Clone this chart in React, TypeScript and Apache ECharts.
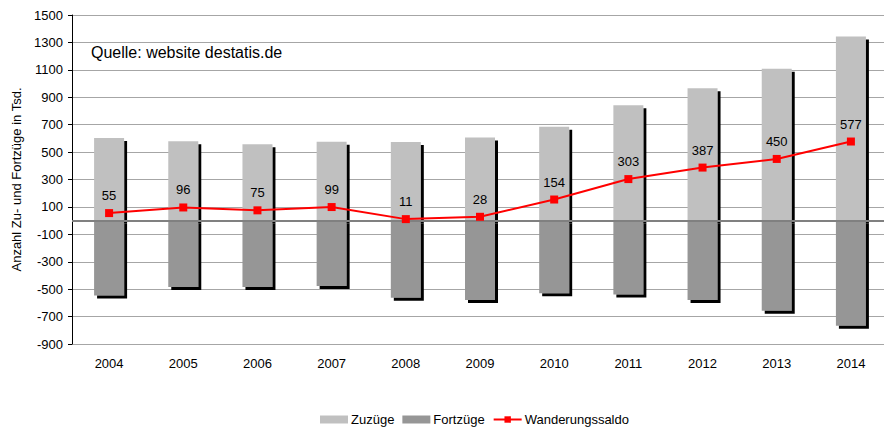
import React, { useEffect, useRef } from "react";
import * as echarts from "echarts";

const years = ["2004", "2005", "2006", "2007", "2008", "2009", "2010", "2011", "2012", "2013", "2014"];
const zuzuege = [602, 579, 558, 575, 574, 606, 684, 842, 966, 1108, 1343];
const fortzuege = [-547, -484, -484, -476, -563, -579, -530, -539, -579, -658, -766];
const saldo = [55, 96, 75, 99, 11, 28, 154, 303, 387, 450, 577];
const yMin = -900;
const yMax = 1500;
const yStep = 200;

const FONT = "'Liberation Sans', Arial, sans-serif";

export default function App() {
  const ref = useRef<HTMLDivElement>(null);
  useEffect(() => {
    if (!ref.current) return;
    const chart = echarts.init(ref.current, null, { renderer: "svg" });
    const shadow = { shadowColor: "#000", shadowOffsetX: 3, shadowOffsetY: 3, shadowBlur: 0 };
    chart.setOption({
      animation: false,
      textStyle: { fontFamily: FONT },
      grid: {
        left: 72,
        width: 816,
        top: 15,
        height: 329,
        containLabel: false,
        outerBoundsMode: "none",
      },
      graphic: [
        {
          type: "text",
          left: 91,
          top: 44,
          style: { text: "Quelle: website destatis.de", font: `16px ${FONT}`, fill: "#000" },
        },
      ],
      legend: {
        left: 320,
        top: 413,
        padding: 0,
        itemWidth: 28,
        itemHeight: 8,
        itemGap: 8,
        textStyle: { fontSize: 13, color: "#000", fontFamily: FONT, padding: [0, 0, 0, -2] },
        itemStyle: { shadowBlur: 0, shadowOffsetX: 0, shadowOffsetY: 0, shadowColor: "transparent" },
        data: [
          { name: "Zuzüge", icon: "rect" },
          { name: "Fortzüge", icon: "rect" },
          { name: "Wanderungssaldo" },
        ],
      },
      xAxis: {
        type: "category",
        data: years,
        axisLine: { show: false, onZero: false },
        axisTick: { show: false },
        axisLabel: { color: "#000", fontSize: 13, margin: 13, fontFamily: FONT },
        splitLine: { show: false },
      },
      yAxis: [
        {
          type: "value",
          min: yMin,
          max: yMax,
          show: false,
          splitLine: { show: false },
        },
        {
          type: "value",
          position: "left",
          min: 0,
          max: yMax - yMin,
          interval: yStep,
          name: "Anzahl Zu- und Fortzüge in Tsd.",
          nameLocation: "middle",
          nameGap: 46,
          nameTextStyle: { fontSize: 13, color: "#000", fontFamily: FONT },
          axisLine: { show: true, lineStyle: { color: "#000", width: 1 } },
          axisTick: { show: true, length: 4, lineStyle: { color: "#000" } },
          axisLabel: {
            color: "#000",
            fontSize: 13,
            margin: 9,
            fontFamily: FONT,
            formatter: (v: number) => String(v + yMin),
          },
          splitLine: { show: true, lineStyle: { color: "#a6a6a6", width: 1 } },
        },
      ],
      series: [
        {
          name: "Zuzüge",
          type: "bar",
          yAxisIndex: 0,
          data: zuzuege,
          barWidth: 30,
          barGap: "-100%",
          itemStyle: { color: "#c0c0c0", ...shadow },
          z: 2,
        },
        {
          name: "Fortzüge",
          type: "bar",
          yAxisIndex: 0,
          data: fortzuege,
          barWidth: 30,
          barGap: "-100%",
          itemStyle: { color: "#969696", ...shadow },
          z: 3,
          markLine: {
            silent: true,
            symbol: "none",
            label: { show: false },
            lineStyle: { color: "#808080", width: 2, type: "solid" },
            data: [{ yAxis: 0 }],
          },
        },
        {
          name: "Wanderungssaldo",
          type: "line",
          yAxisIndex: 0,
          data: saldo,
          color: "#ff0000",
          lineStyle: { color: "#ff0000", width: 2 },
          itemStyle: { color: "#ff0000" },
          symbol: "rect",
          symbolSize: 8,
          z: 5,
          label: {
            show: true,
            position: "top",
            distance: 7,
            color: "#000",
            fontSize: 13,
            fontFamily: FONT,
          },
        },
      ],
    });
    return () => chart.dispose();
  }, []);
  return <div ref={ref} style={{ width: 884, height: 430, position: "absolute", left: 0, top: 0 }} />;
}
